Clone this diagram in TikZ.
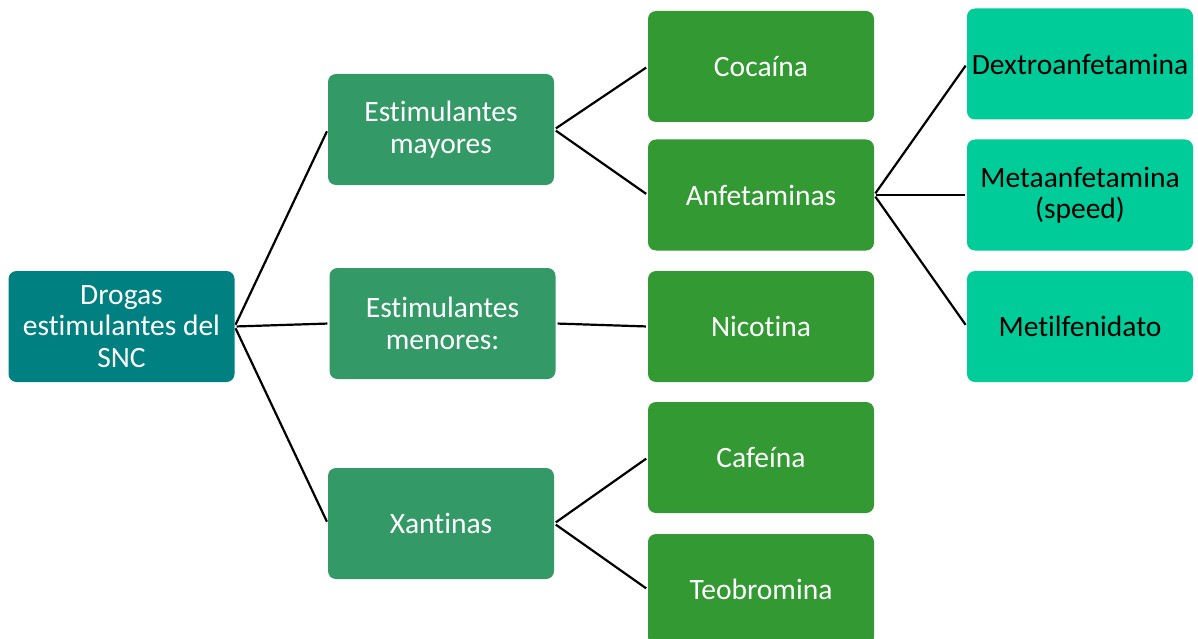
\documentclass[tikz,border=0pt]{standalone}
\usepackage{fontspec}
\setmainfont{Carlito}[RawFeature={-liga;-clig;-calt;-dlig}]
\definecolor{cRoot}{RGB}{0,128,128}
\definecolor{cOne}{RGB}{51,153,102}
\definecolor{cTwo}{RGB}{51,153,51}
\definecolor{cThree}{RGB}{0,204,153}
\begin{document}
\begin{tikzpicture}[x=1pt,y=-1pt,
  box/.style={rectangle,rounded corners=8pt,minimum width=226pt,minimum height=111pt,
    inner sep=0pt,align=center,font=\fontsize{29.5}{31.5}\selectfont},
  rootbox/.style={box,fill=cRoot,text=white},
  onebox/.style={box,fill=cOne,text=white},
  twobox/.style={box,fill=cTwo,text=white},
  threebox/.style={box,fill=cThree,text=black},
  link/.style={draw=black,line width=2.2pt,shorten <=2pt,shorten >=2pt}]
\useasboundingbox (0,0) rectangle (1198,639);
\node[rootbox] (root) at (121.5,326.5) {Drogas\\estimulantes del\\SNC};
\node[onebox] (maj) at (441,129.5) {Estimulantes\\mayores};
\node[onebox] (men) at (442.5,323.5) {Estimulantes\\menores:};
\node[onebox] (xan) at (441,523.5) {Xantinas};
\node[twobox] (coc) at (761,66.5) {Cocaína};
\node[twobox] (anf) at (761,195) {Anfetaminas};
\node[twobox] (nic) at (761,326.5) {Nicotina};
\node[twobox] (caf) at (761,457.5) {Cafeína};
\node[twobox] (teo) at (761,589.5) {Teobromina};
\node[threebox] (dex) at (1080,64) {Dextroanfetamina};
\node[threebox] (met) at (1080,195) {Metaanfetamina\\(speed)};
\node[threebox] (mtf) at (1080,326.5) {Metilfenidato};
\draw[link] (root.east) -- (maj.west);
\draw[link] (root.east) -- (men.west);
\draw[link] (root.east) -- (xan.west);
\draw[link] (maj.east) -- (coc.west);
\draw[link] (maj.east) -- (anf.west);
\draw[link] (men.east) -- (nic.west);
\draw[link] (xan.east) -- (caf.west);
\draw[link] (xan.east) -- (teo.west);
\draw[link] (anf.east) -- (dex.west);
\draw[link] (anf.east) -- (met.west);
\draw[link] (anf.east) -- (mtf.west);
\end{tikzpicture}
\end{document}
